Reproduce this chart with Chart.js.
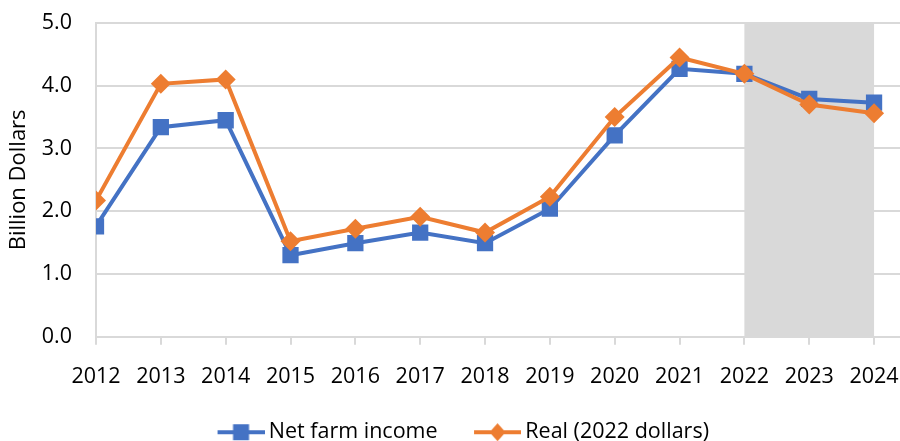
<!DOCTYPE html>
<html>
<head>
<meta charset="utf-8">
<script src="https://cdn.jsdelivr.net/npm/chart.js@4"></script>
<style>
  body { margin: 0; background: #fff; }
  #wrap { width: 900px; height: 441px; }
</style>
</head>
<body>
<div id="wrap"><canvas id="grafico" width="900" height="441"></canvas></div>
<script>
// dados
const anos = [2012, 2013, 2014, 2015, 2016, 2017, 2018, 2019, 2020, 2021, 2022, 2023, 2024];
const rendaNominal = [1.76, 3.34, 3.45, 1.30, 1.49, 1.66, 1.49, 2.04, 3.21, 4.27, 4.19, 3.79, 3.73];
const rendaReal = [2.17, 4.03, 4.10, 1.52, 1.72, 1.91, 1.66, 2.23, 3.50, 4.45, 4.19, 3.70, 3.56];
const rotulosY = [0, 1, 2, 3, 4, 5];
const inicioPrevisao = 2022;
const fimPrevisao = 2024;

const azul = '#4472C4';
const laranja = '#ED7D31';
const cinzaGrade = '#d9d9d9';

Chart.defaults.font.family = "'Open Sans', sans-serif";
Chart.defaults.color = '#000';

// icone da legenda: linha com marcador, alinhado a direita da imagem
function iconeLegenda(cor, tipo) {
    const c = document.createElement('canvas');
    c.width = 80;
    c.height = 22;
    const g = c.getContext('2d');
    const x0 = 80 - 47, meio = 11;
    g.strokeStyle = cor;
    g.lineWidth = 4;
    g.beginPath();
    g.moveTo(x0, meio);
    g.lineTo(80, meio);
    g.stroke();
    g.fillStyle = cor;
    const cx = x0 + 23.5;
    if (tipo === 'quadrado') {
        g.fillRect(cx - 8, meio - 8, 16, 16);
    } else {
        g.beginPath();
        g.moveTo(cx - 8, meio);
        g.lineTo(cx, meio - 9);
        g.lineTo(cx + 8, meio);
        g.lineTo(cx, meio + 9);
        g.closePath();
        g.fill();
    }
    return c;
}
const icones = [iconeLegenda(azul, 'quadrado'), iconeLegenda(laranja, 'losango')];

// sombreado dos anos de previsao, desenhado antes da grade
const sombraPrevisao = {
    id: 'sombraPrevisao',
    beforeDraw(chart) {
        const {ctx, chartArea, scales} = chart;
        const x1 = scales.x.getPixelForValue(inicioPrevisao);
        const x2 = scales.x.getPixelForValue(fimPrevisao);
        ctx.save();
        ctx.fillStyle = cinzaGrade;
        ctx.fillRect(x1, chartArea.top, x2 - x1, chartArea.bottom - chartArea.top);
        ctx.restore();
    }
};

var ctx = document.getElementById('grafico').getContext('2d');

var dados = {
    datasets: [{
        label: 'Net farm income',
        data: anos.map((a, i) => ({x: a, y: rendaNominal[i]})),
        borderColor: azul,
        backgroundColor: azul,
        borderWidth: 4,
        pointStyle: 'rect',
        pointRadius: 11.5,
        pointBorderWidth: 0,
        order: 2
    }, {
        label: 'Real (2022 dollars)',
        data: anos.map((a, i) => ({x: a, y: rendaReal[i]})),
        borderColor: laranja,
        backgroundColor: laranja,
        borderWidth: 4,
        pointStyle: 'rectRot',
        pointRadius: 10,
        pointBorderWidth: 0,
        order: 1
    }]
};

var Grafico = new Chart(ctx, {
    type: 'line',
    data: dados,
    plugins: [sombraPrevisao],
    options: {
        responsive: false,
        animation: false,
        devicePixelRatio: 1,
        layout: { autoPadding: false, padding: { top: 0, right: 0, bottom: -12, left: 0 } },
        plugins: {
            tooltip: { enabled: false },
            legend: {
                position: 'bottom',
                labels: {
                    usePointStyle: true,
                    pointStyleWidth: 67,
                    padding: 10,
                    font: { size: 21.5 },
                    sort: (a, b) => a.datasetIndex - b.datasetIndex,
                    generateLabels(chart) {
                        return chart.data.datasets.map((ds, i) => ({
                            text: ds.label,
                            datasetIndex: i,
                            pointStyle: icones[i],
                            fillStyle: ds.borderColor,
                            strokeStyle: ds.borderColor,
                            lineWidth: 0,
                            fontColor: '#000',
                            hidden: false
                        }));
                    }
                }
            }
        },
        scales: {
            x: {
                type: 'linear',
                min: anos[0],
                max: anos[anos.length - 1] + 0.4,
                afterBuildTicks(escala) {
                    escala.ticks = anos.map(a => ({value: a}));
                },
                afterFit(escala) {
                    escala.paddingLeft = 0;
                    escala.paddingRight = 0;
                    escala.height += 3;
                },
                ticks: {
                    font: { size: 21.5 },
                    padding: 19,
                    maxRotation: 0,
                    autoSkip: false,
                    callback: v => String(v)
                },
                grid: {
                    drawOnChartArea: false,
                    drawTicks: true,
                    tickLength: 8,
                    color: cinzaGrade,
                    lineWidth: 2
                },
                border: { color: cinzaGrade, width: 2 }
            },
            y: {
                min: 0,
                max: 5,
                afterFit(escala) {
                    escala.width = 96;
                    escala.paddingTop = 23;
                    escala.paddingBottom = 0;
                },
                afterBuildTicks(escala) {
                    escala.ticks = rotulosY.map(v => ({value: v}));
                },
                ticks: {
                    font: { size: 21.5 },
                    padding: 24,
                    callback: v => v.toFixed(1)
                },
                grid: {
                    color: cinzaGrade,
                    lineWidth: 2,
                    drawTicks: false
                },
                border: { color: cinzaGrade, width: 2 },
                title: {
                    display: true,
                    text: 'Billion Dollars',
                    font: { size: 22 },
                    padding: { top: 6, bottom: 0 }
                }
            }
        }
    }
});
</script>
</body>
</html>
